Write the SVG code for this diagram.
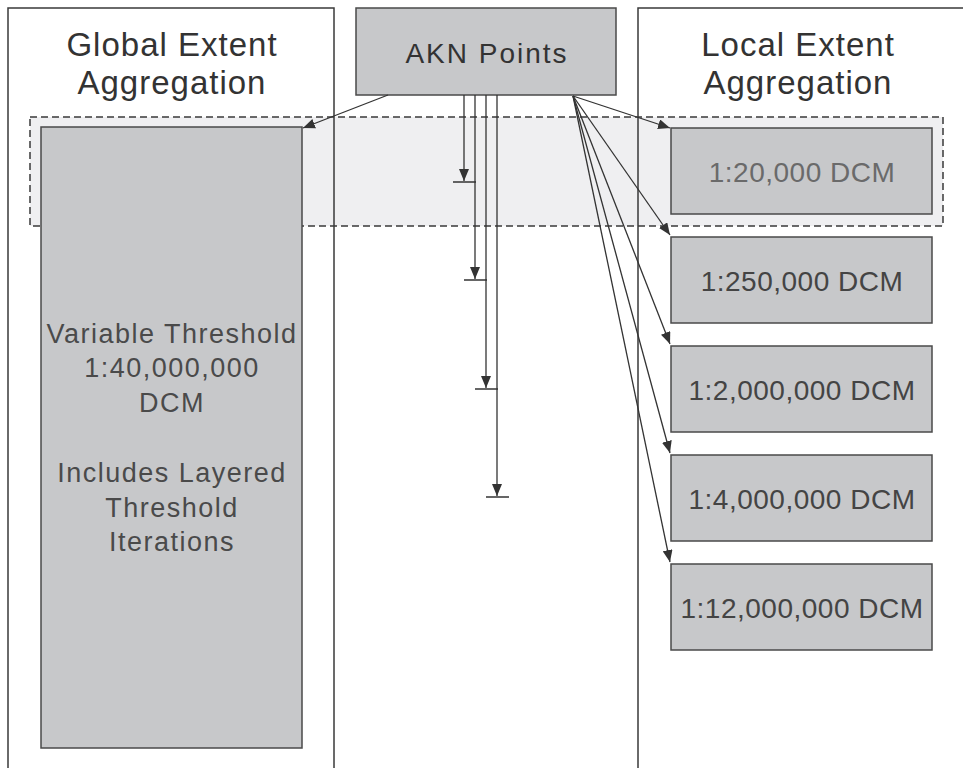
<svg xmlns="http://www.w3.org/2000/svg" width="963" height="768" viewBox="0 0 963 768">
<style>
.panel{fill:none;stroke:#3a3a3a;stroke-width:1.5}
.box{fill:#c7c8ca;stroke:#4a4a4a;stroke-width:1.5}
.band{fill:#efeff1;stroke:#3a3a3a;stroke-width:1.5;stroke-dasharray:7,4}
.title{font-family:"Liberation Sans",Arial,sans-serif;font-size:33px;fill:#333;text-anchor:middle;letter-spacing:1px}
.akn{font-family:"Liberation Sans",Arial,sans-serif;font-size:28px;fill:#333;text-anchor:middle;letter-spacing:2px}
.lbl{font-family:"Liberation Sans",Arial,sans-serif;font-size:28px;fill:#444;text-anchor:middle;letter-spacing:0.5px}
.gl{font-family:"Liberation Sans",Arial,sans-serif;font-size:27px;fill:#4a4a4a;text-anchor:middle;letter-spacing:1.5px}
.c{fill:none;stroke:#333;stroke-width:1.3}
.tick{fill:none;stroke:#333;stroke-width:1.5}
</style>
<defs>
<marker id="ah" viewBox="0 0 12 10" refX="12" refY="5" markerWidth="12" markerHeight="10" markerUnits="userSpaceOnUse" orient="auto">
<path d="M0,0 L12,5 L0,10 z" fill="#333"/>
</marker>
</defs>
<rect x="0" y="0" width="963" height="768" fill="#fff"/>
<rect class="band" x="30" y="117" width="913" height="109"/>
<g id="global-panel">
<rect class="panel" x="8" y="8" width="326" height="790"/>
<text class="title" x="172" y="56">Global Extent</text>
<text class="title" x="172" y="94">Aggregation</text>
</g>
<g id="local-panel">
<rect class="panel" x="638" y="8" width="360" height="790"/>
<text class="title" x="798" y="56">Local Extent</text>
<text class="title" x="798" y="94">Aggregation</text>
</g>
<g id="akn-points">
<rect class="box" x="356" y="8" width="260" height="87"/>
<text class="akn" x="487" y="63">AKN Points</text>
</g>
<g id="global-box">
<rect class="box" x="41" y="127" width="261" height="621"/>
<text class="gl" x="172" y="343">Variable Threshold</text>
<text class="gl" x="172" y="377">1:40,000,000</text>
<text class="gl" x="172" y="412">DCM</text>
<text class="gl" x="172" y="482">Includes Layered</text>
<text class="gl" x="172" y="517">Threshold</text>
<text class="gl" x="172" y="551">Iterations</text>
</g>
<g id="dcm-20k">
<rect class="box" x="671" y="128" width="261" height="86"/>
<text class="lbl" x="802" y="182" style="fill:#6a6a6a">1:20,000 DCM</text>
</g>
<g id="dcm-250k">
<rect class="box" x="671" y="237" width="261" height="86"/>
<text class="lbl" x="802" y="291">1:250,000 DCM</text>
</g>
<g id="dcm-2m">
<rect class="box" x="671" y="346" width="261" height="86"/>
<text class="lbl" x="802" y="400">1:2,000,000 DCM</text>
</g>
<g id="dcm-4m">
<rect class="box" x="671" y="455" width="261" height="86"/>
<text class="lbl" x="802" y="509">1:4,000,000 DCM</text>
</g>
<g id="dcm-12m">
<rect class="box" x="671" y="564" width="261" height="86"/>
<text class="lbl" x="802" y="618">1:12,000,000 DCM</text>
</g>
<g id="connectors">
<line class="c" x1="388" y1="95" x2="303" y2="128" marker-end="url(#ah)"/>
<line class="c" x1="464" y1="95" x2="464" y2="181" marker-end="url(#ah)"/>
<line class="tick" x1="453" y1="182" x2="476" y2="182"/>
<line class="c" x1="475" y1="95" x2="475" y2="279" marker-end="url(#ah)"/>
<line class="tick" x1="464" y1="280" x2="487" y2="280"/>
<line class="c" x1="486" y1="95" x2="486" y2="388" marker-end="url(#ah)"/>
<line class="tick" x1="475" y1="389" x2="498" y2="389"/>
<line class="c" x1="497" y1="95" x2="497" y2="496" marker-end="url(#ah)"/>
<line class="tick" x1="486" y1="497" x2="509" y2="497"/>
<line class="c" x1="573" y1="96" x2="670" y2="128" marker-end="url(#ah)"/>
<line class="c" x1="573" y1="96" x2="670" y2="235" marker-end="url(#ah)"/>
<line class="c" x1="573" y1="96" x2="670" y2="344" marker-end="url(#ah)"/>
<line class="c" x1="573" y1="96" x2="670" y2="453" marker-end="url(#ah)"/>
<line class="c" x1="573" y1="96" x2="670" y2="562" marker-end="url(#ah)"/>
</g>
</svg>
